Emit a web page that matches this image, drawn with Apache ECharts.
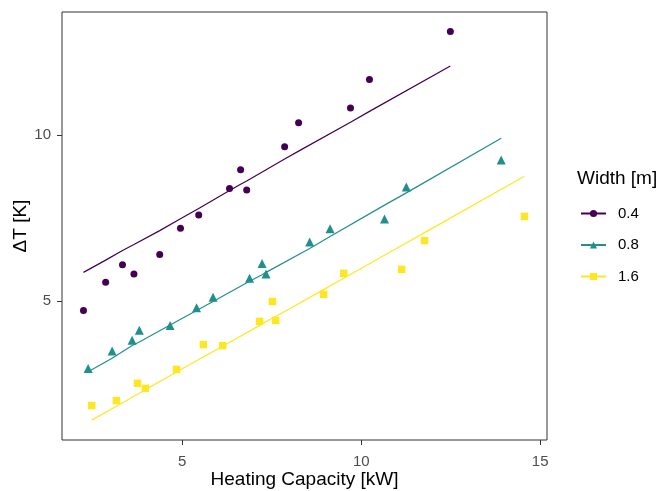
<!DOCTYPE html>
<html>
<head>
<meta charset="utf-8">
<script src="https://cdn.jsdelivr.net/npm/echarts@6/dist/echarts.min.js"></script>
<style>html,body{margin:0;padding:0;background:#fff}#c{width:662px;height:491px}</style>
</head>
<body>
<div id="c"></div>
<script>
// Width 0.4 m
const x04 = [2.24, 2.86, 3.33, 3.65, 4.37, 4.95, 5.46, 6.32, 6.63, 6.80, 7.86, 8.25, 9.70, 10.23, 12.49];
const y04 = [4.71, 5.56, 6.09, 5.81, 6.40, 7.19, 7.59, 8.39, 8.96, 8.35, 9.65, 10.38, 10.82, 11.68, 13.13];
const fit04 = [5.86, 6.23, 6.52, 6.70, 7.12, 7.48, 7.79, 8.33, 8.52, 8.62, 9.28, 9.52, 10.39, 10.72, 12.09];
// Width 0.8 m
const x08 = [2.37, 3.04, 3.60, 3.80, 4.66, 5.40, 5.86, 6.88, 7.23, 7.34, 8.56, 9.13, 10.65, 11.26, 13.91];
const y08 = [2.96, 3.49, 3.81, 4.11, 4.26, 4.79, 5.11, 5.68, 6.13, 5.81, 6.78, 7.18, 7.47, 8.44, 9.25];
const fit08 = [2.86, 3.27, 3.65, 3.76, 4.27, 4.71, 4.98, 5.59, 5.79, 5.86, 6.58, 6.94, 7.89, 8.26, 9.91];
// Width 1.6 m
const x16 = [2.47, 3.16, 3.75, 3.97, 4.84, 5.59, 6.13, 7.16, 7.52, 7.61, 8.95, 9.51, 11.13, 11.77, 14.56];
const y16 = [1.84, 1.99, 2.51, 2.36, 2.93, 3.68, 3.65, 4.38, 4.98, 4.41, 5.20, 5.83, 5.95, 6.82, 7.55];
const fit16 = [1.40, 1.82, 2.18, 2.32, 2.85, 3.31, 3.63, 4.26, 4.48, 4.53, 5.34, 5.68, 6.67, 7.06, 8.76];

const groups = ['0.4', '0.8', '1.6'];
const xTicks = [5, 10, 15];
const yTicks = [5, 10];

const colors = ['#440154', '#21908C', '#FDE725'];
const symbols = ['circle', 'triangle', 'rect'];
const sizes = [7, 9, 7.5];
const xs = [x04, x08, x16], ys = [y04, y08, y16], fits = [fit04, fit08, fit16];
const pair = (a, b) => a.map((v, i) => [v, b[i]]);

const series = [];
groups.forEach((g, k) => {
  series.push({
    name: g, type: 'line', data: pair(xs[k], fits[k]),
    showSymbol: false, symbol: symbols[k], symbolSize: sizes[k],
    lineStyle: {color: colors[k], width: 1.2}, itemStyle: {color: colors[k]},
    silent: true, animation: false, z: 2
  });
  series.push({
    name: 'pts' + g, type: 'scatter', data: pair(xs[k], ys[k]),
    symbol: symbols[k], symbolSize: sizes[k],
    itemStyle: {color: colors[k], opacity: 1}, animation: false, z: 3
  });
});

const FF = 'Liberation Sans, Arial, sans-serif';
const chart = echarts.init(document.getElementById('c'));
chart.setOption({
  backgroundColor: '#fff',
  textStyle: {fontFamily: FF},
  grid: {left: 62, top: 12, width: 485, height: 428, show: true, borderColor: '#333', borderWidth: 1,
         containLabel: false, outerBoundsMode: 'none'},
  title: {text: 'Width [m]', left: 572, top: 164, textStyle: {fontSize: 19, fontWeight: 'normal', color: '#000', fontFamily: FF}},
  legend: {
    data: groups, orient: 'vertical', left: 575, top: 201, itemWidth: 25, itemHeight: 9, itemGap: 16.5,
    textStyle: {fontSize: 15, color: '#000', padding: [0, 0, 0, 7]}, selectedMode: false
  },
  xAxis: {
    type: 'value', min: 1.64, max: 15.19,
    name: 'Heating Capacity [kW]', nameLocation: 'middle', nameGap: 30, nameMoveOverlap: false,
    nameTextStyle: {fontSize: 19, color: '#000'},
    axisLine: {show: false}, splitLine: {show: false},
    axisTick: {show: true, customValues: xTicks, length: 5, lineStyle: {color: '#333'}},
    axisLabel: {customValues: xTicks, fontSize: 15, color: '#4D4D4D', margin: 14}
  },
  yAxis: {
    type: 'value', min: 0.80, max: 13.72,
    name: 'ΔT [K]', nameLocation: 'middle', nameGap: 32, nameRotate: 90, nameMoveOverlap: false,
    nameTextStyle: {fontSize: 19, color: '#000'},
    axisLine: {show: false}, splitLine: {show: false},
    axisTick: {show: true, customValues: yTicks, length: 5, lineStyle: {color: '#333'}},
    axisLabel: {customValues: yTicks, fontSize: 15, color: '#4D4D4D', margin: 11}
  },
  series: series
});
</script>
</body>
</html>
